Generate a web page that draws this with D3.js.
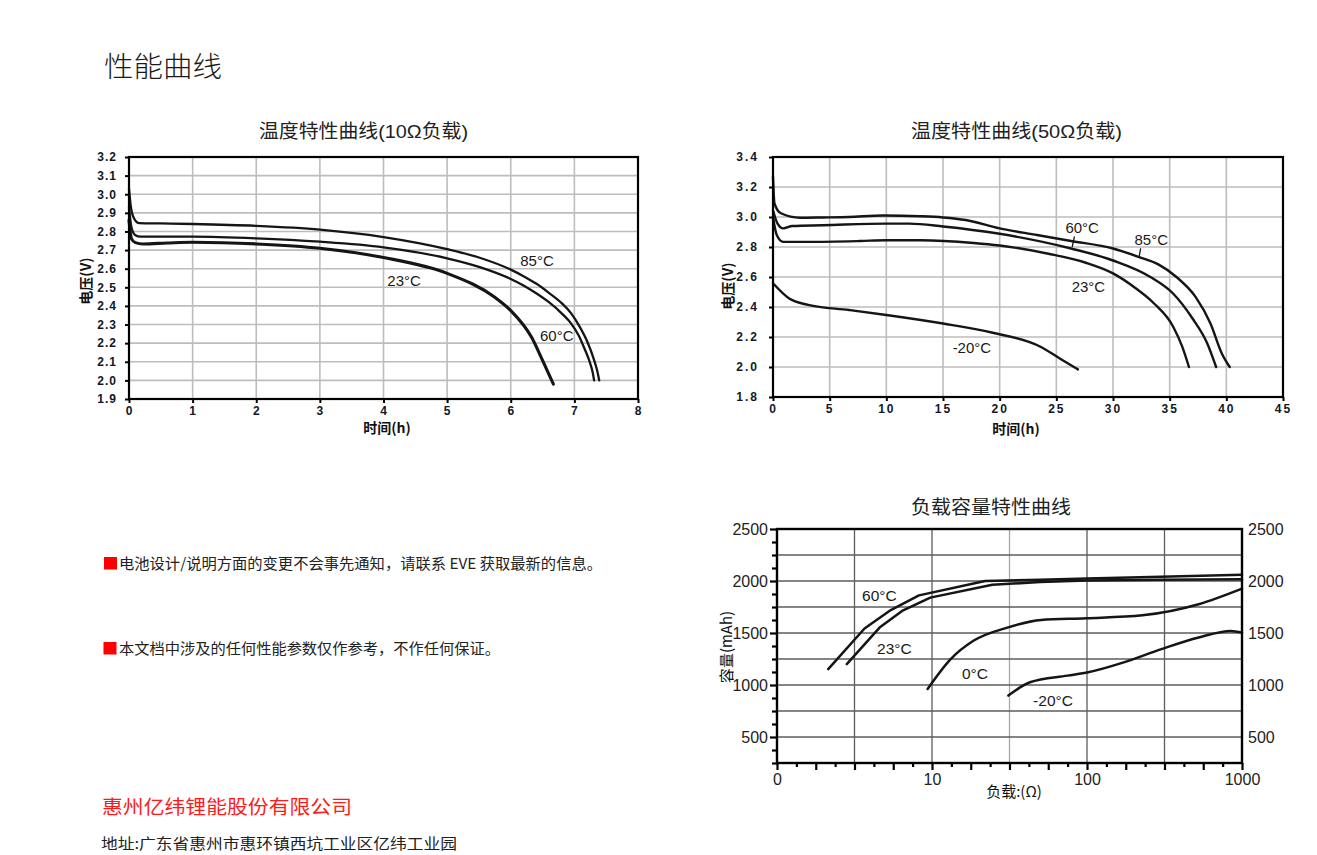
<!DOCTYPE html>
<html><head><meta charset="utf-8">
<script src="https://cdn.jsdelivr.net/npm/d3@7"></script>
<style>body{margin:0;background:#fff;} svg{display:block;}</style>
</head><body><svg id="c" width="1317" height="855"></svg>
<script>
// ---------------- DATA ----------------
// Chart 1: 10Ω load, time (h) vs voltage (V)
const c1_85 = [[0,3.03],[0.03,2.93],[0.08,2.87],[0.16,2.845],[0.5,2.843],[1,2.84],[2,2.83],[3,2.81],[4,2.77],[5,2.705],[5.5,2.66],[6,2.595],[6.2,2.56],[6.4,2.52],[6.6,2.47],[6.8,2.415],[6.95,2.36],[7.08,2.29],[7.2,2.21],[7.3,2.12],[7.36,2.05],[7.39,2.0]];
const c1_60 = [[0,2.93],[0.04,2.82],[0.1,2.78],[0.18,2.772],[1,2.772],[2,2.763],[3,2.745],[4,2.715],[5,2.656],[5.5,2.61],[6,2.545],[6.2,2.51],[6.4,2.468],[6.6,2.42],[6.8,2.36],[6.95,2.305],[7.07,2.24],[7.16,2.17],[7.24,2.1],[7.29,2.04],[7.31,2.0]];
const c1_23 = [[0,2.86],[0.04,2.76],[0.1,2.74],[0.22,2.733],[0.6,2.738],[1,2.742],[2,2.733],[3,2.71],[4,2.66],[5,2.575],[5.75,2.446],[6.0,2.375],[6.33,2.23],[6.5,2.107],[6.67,1.98]];
const c1_xTicks = [0,1,2,3,4,5,6,7,8];
const c1_yTicks = [1.9,2.0,2.1,2.2,2.3,2.4,2.5,2.6,2.7,2.8,2.9,3.0,3.1,3.2];
const c1_labels = [["85°C",6.15,2.614],["23°C",4.06,2.507],["60°C",6.46,2.212]];

// Chart 2: 50Ω load
const c2_85 = [[0,3.27],[0.13,3.09],[0.7,3.025],[2.4,2.995],[4.4,2.997],[6.7,3.0],[9.7,3.01],[13,3.005],[15,2.997],[17,2.98],[20,2.924],[23.3,2.88],[26.3,2.84],[30,2.79],[32.3,2.733],[34,2.684],[35.6,2.6],[37.3,2.466],[38.6,2.29],[39.6,2.09],[40.3,2.0]];
const c2_60 = [[0,3.045],[0.4,2.956],[0.9,2.924],[1.7,2.94],[4.4,2.945],[10,2.956],[12,2.956],[15,2.937],[20,2.888],[26.3,2.79],[30,2.71],[33.3,2.6],[35.3,2.49],[37,2.325],[38.3,2.16],[39.1,2.0]];
const c2_23 = [[0,3.0],[0.33,2.88],[0.9,2.834],[3.1,2.834],[7.7,2.84],[10,2.845],[13,2.845],[17.7,2.827],[20,2.81],[24.3,2.755],[27.6,2.695],[30,2.624],[32,2.525],[33.6,2.425],[35.3,2.27],[36.1,2.137],[36.7,2.0]];
const c2_m20 = [[0,2.558],[1.4,2.458],[3.1,2.414],[6.7,2.38],[10,2.347],[15,2.29],[19.3,2.23],[23.6,2.135],[25.3,2.057],[26.9,1.984]];
const c2_xTicks = [0,5,10,15,20,25,30,35,40,45];
const c2_yTicks = [1.8,2.0,2.2,2.4,2.6,2.8,3.0,3.2,3.4];
const c2_labels = [["60°C",25.8,2.891],["85°C",31.9,2.811],["23°C",26.35,2.498],["-20°C",15.85,2.091]];
const c2_leaders = [[[26.6,2.87],[26.4,2.80]],[[32.44,2.791],[32.29,2.731]]];

// Chart 3: load (Ω) vs capacity (mAh)
const c3_60 = [[2.14,1153],[3.67,1543],[5.42,1721],[8.24,1862],[22,2000],[50,2012],[100,2025],[300,2042],[1000,2060]];
const c3_23 = [[2.82,1201],[4.59,1552],[6.41,1712],[9.75,1840],[24.5,1963],[50,1990],[100,2005],[300,2012],[1000,2018]];
const c3_0 = [[9.37,962],[13.2,1249],[18.5,1425],[30.6,1552],[50.6,1626],[98.7,1642],[228,1670],[525,1776],[1000,1926]];
const c3_m20 = [[31.1,898],[42.8,1026],[74.7,1090],[101.6,1122],[172.6,1217],[302,1345],[525,1457],[847,1520],[1000,1504]];
const c3_xLabels = [[1,"0"],[10,"10"],[100,"100"],[1000,"1000"]];
const c3_yLabels = [500,1000,1500,2000,2500];
const c3_labels = [["60°C",3.54,1808],["23°C",4.42,1298],["0°C",15.6,1058],["-20°C",44.9,798]];

// ---------------- DRAW ----------------
const svg = d3.select("#c");
const LAT = "'Liberation Sans', Arial, 'Noto Sans CJK SC', sans-serif";
const CJK = "'Noto Sans CJK SC', 'Liberation Sans', sans-serif";

function txt(x, y, s, o) {
  o = o || {};
  const t = svg.append("text").attr("x", x).attr("y", y).text(s)
    .attr("font-family", o.family || CJK).attr("font-size", o.size || 15)
    .attr("fill", o.fill || "#222");
  if (o.weight) t.attr("font-weight", o.weight);
  if (o.len) t.attr("textLength", o.len).attr("lengthAdjust", "spacingAndGlyphs");
  if (o.anchor) t.attr("text-anchor", o.anchor);
  return t;
}

// Page text
txt(104, 76.5, "性能曲线", {size: 28, fill: "#1a1a1a", len: 118, weight: 300});
svg.append("rect").attr("x",104).attr("y",557).attr("width",13).attr("height",12.5).attr("fill","#ff0000");
txt(119, 569, "电池设计/说明方面的变更不会事先通知，请联系 EVE 获取最新的信息。", {size: 15, len: 483, fill:"#222"});
svg.append("rect").attr("x",103.5).attr("y",642).attr("width",13).attr("height",12.5).attr("fill","#ff0000");
txt(119, 654, "本文档中涉及的任何性能参数仅作参考，不作任何保证。", {size: 15, len: 381, fill:"#222"});
txt(102, 814, "惠州亿纬锂能股份有限公司", {size: 19, len: 250, fill: "#ff1a1a"});
txt(101, 849, "地址:广东省惠州市惠环镇西坑工业区亿纬工业园", {size: 15, len: 356, fill: "#222"});

// Voltage chart
function vChart(cfg) {
  const x = d3.scaleLinear().domain(cfg.xd).range([cfg.l, cfg.r]);
  const y = d3.scaleLinear().domain(cfg.yd).range([cfg.b, cfg.t]);
  const g = svg.append("g");
  // grid
  g.selectAll(".gx").data(cfg.xTicks).enter().append("line")
    .attr("x1", d => x(d)).attr("x2", d => x(d)).attr("y1", cfg.t).attr("y2", cfg.b)
    .attr("stroke", "#bdbdbd").attr("stroke-width", 1.6);
  g.selectAll(".gy").data(cfg.yTicks).enter().append("line")
    .attr("y1", d => y(d)).attr("y2", d => y(d)).attr("x1", cfg.l).attr("x2", cfg.r)
    .attr("stroke", "#bdbdbd").attr("stroke-width", 1.6);
  // axes
  const ax = g.append("g").attr("transform", `translate(0,${cfg.b})`)
    .call(d3.axisBottom(x).tickValues(cfg.xTicks).tickSize(4).tickPadding(4).tickFormat(d3.format("d")));
  const ay = g.append("g").attr("transform", `translate(${cfg.l},0)`)
    .call(d3.axisLeft(y).tickValues(cfg.yTicks).tickSize(4).tickPadding(cfg.yPad).tickFormat(d3.format(".1f")));
  [ax, ay].forEach(a => {
    a.select(".domain").remove();
    a.selectAll(".tick line").attr("stroke", "#000").attr("stroke-width", 2);
    a.selectAll("text").attr("font-family", LAT).attr("font-size", 12).attr("font-weight", "bold")
      .attr("fill", "#111827").style("letter-spacing", cfg.ls + "px");
  });
  ax.selectAll("text").attr("dy", "0.68em");
  // curves
  const line = d3.line().x(d => x(d[0])).y(d => y(d[1])).curve(d3.curveMonotoneX);
  cfg.series.forEach(s => {
    g.append("path").attr("d", line(s.data)).attr("fill", "none")
      .attr("stroke", "#151515").attr("stroke-width", s.w).attr("stroke-linejoin", "round").attr("stroke-linecap","round");
  });
  (cfg.leaders || []).forEach(L => {
    g.append("line").attr("x1", x(L[0][0])).attr("y1", y(L[0][1])).attr("x2", x(L[1][0])).attr("y2", y(L[1][1]))
      .attr("stroke", "#151515").attr("stroke-width", 1.3);
  });
  // frame
  g.append("rect").attr("x", cfg.l).attr("y", cfg.t).attr("width", cfg.r - cfg.l).attr("height", cfg.b - cfg.t)
    .attr("fill", "none").attr("stroke", "#000").attr("stroke-width", 2.2);
  cfg.labels.forEach(L => {
    g.append("text").attr("x", x(L[1])).attr("y", y(L[2])).text(L[0])
      .attr("font-family", LAT).attr("font-size", 15).attr("fill", "#1a1a1a");
  });
  // titles
  txt(cfg.titleX, 138, cfg.title, {family: LAT, size: 19, len: cfg.titleLen, fill: "#222"});
  txt(cfg.xtX, cfg.xtY, "时间(h)", {family: CJK, size: 14, weight: "bold", anchor: "middle", fill:"#111"});
  svg.append("text").attr("transform", `translate(${cfg.ytX},${cfg.ytY}) rotate(-90)`)
    .attr("text-anchor", "middle").attr("dominant-baseline", "central").text("电压(V)")
    .attr("font-family", CJK).attr("font-size", 14).attr("font-weight", "bold").attr("fill", "#111");
}

vChart({l:129, r:638, t:157, b:399, xd:[0,8], yd:[1.9,3.2], xTicks:c1_xTicks, yTicks:c1_yTicks, yPad:8, ls:1,
  series:[{data:c1_85,w:2.3},{data:c1_60,w:2.3},{data:c1_23,w:3.1}], labels:c1_labels,
  title:"温度特性曲线(10Ω负载)", titleX:259, titleLen:209, xtX:387, xtY:433, ytX:85, ytY:281});

vChart({l:773, r:1283, t:157, b:397, xd:[0,45], yd:[1.8,3.4], xTicks:c2_xTicks, yTicks:c2_yTicks, yPad:10, ls:2,
  series:[{data:c2_85,w:2.4},{data:c2_60,w:2.4},{data:c2_23,w:2.4},{data:c2_m20,w:2.4}], labels:c2_labels, leaders:c2_leaders,
  title:"温度特性曲线(50Ω负载)", titleX:911, titleLen:211, xtX:1016, xtY:434, ytX:727, ytY:286});

// Capacity chart
(function(){
  const l = 777, r = 1242, t = 529, b = 763;
  const x = d3.scaleLog().domain([1, 1000]).range([l, r]);
  const y = d3.scaleLinear().domain([250, 2500]).range([b, t]);
  const g = svg.append("g");
  const gridX = [1,2,3,4,5].map(k => Math.pow(10, k / 2));
  g.selectAll(".gx").data(gridX).enter().append("line")
    .attr("x1", d => x(d)).attr("x2", d => x(d)).attr("y1", t).attr("y2", b)
    .attr("stroke", (d, i) => i === 2 ? "#a8a8a8" : "#5c5c5c").attr("stroke-width", 1.3);
  const gridY = d3.range(500, 2500, 250);
  g.selectAll(".gy").data(gridY).enter().append("line")
    .attr("y1", d => y(d)).attr("y2", d => y(d)).attr("x1", l).attr("x2", r)
    .attr("stroke", "#5c5c5c").attr("stroke-width", 1.3);
  // bottom axis
  const xt = d3.range(0, 25).map(k => Math.pow(10, k / 8));
  const labelMap = new Map(c3_xLabels.map(d => [d[0], d[1]]));
  const ax = g.append("g").attr("transform", `translate(0,${b})`)
    .call(d3.axisBottom(x).tickValues(xt).tickSize(7).tickPadding(4)
      .tickFormat(d => { for (const [k, v] of labelMap) if (Math.abs(k - d) < 1e-6) return v; return ""; }));
  ax.select(".domain").remove();
  ax.selectAll(".tick line").attr("stroke", "#000").attr("stroke-width", 2.2)
    .attr("y2", (d, i) => i % 2 === 0 ? 7 : 4);
  ax.selectAll("text").attr("font-family", LAT).attr("font-size", 16).attr("fill", "#222");
  // left axis
  const yt = d3.range(250, 2501, 125);
  const ay = g.append("g").attr("transform", `translate(${l},0)`)
    .call(d3.axisLeft(y).tickValues(yt).tickSize(6).tickPadding(3)
      .tickFormat(d => c3_yLabels.includes(d) ? String(d) : ""));
  ay.select(".domain").remove();
  ay.selectAll(".tick line").attr("stroke", "#000").attr("stroke-width", 2.2)
    .attr("x2", d => c3_yLabels.includes(d) ? -7 : -5);
  ay.selectAll("text").attr("font-family", LAT).attr("font-size", 16).attr("fill", "#222");
  // right axis labels
  const ar = g.append("g").attr("transform", `translate(${r},0)`)
    .call(d3.axisRight(y).tickValues(c3_yLabels).tickSize(0).tickPadding(6).tickFormat(d3.format("d")));
  ar.select(".domain").remove();
  ar.selectAll("text").attr("font-family", LAT).attr("font-size", 16).attr("fill", "#222");
  // curves
  const lineLin = d3.line().x(d => x(d[0])).y(d => y(d[1]));
  const lineSm = d3.line().x(d => x(d[0])).y(d => y(d[1])).curve(d3.curveMonotoneX);
  [[c3_60, lineLin], [c3_23, lineLin], [c3_0, lineSm], [c3_m20, lineSm]].forEach(([d, ln]) => {
    g.append("path").attr("d", ln(d)).attr("fill", "none").attr("stroke", "#151515")
      .attr("stroke-width", 2.5).attr("stroke-linejoin", "round").attr("stroke-linecap", "round");
  });
  // frame
  g.append("rect").attr("x", l).attr("y", t).attr("width", r - l).attr("height", b - t)
    .attr("fill", "none").attr("stroke", "#000").attr("stroke-width", 2.4);
  c3_labels.forEach(L => {
    g.append("text").attr("x", x(L[1])).attr("y", y(L[2])).text(L[0])
      .attr("font-family", LAT).attr("font-size", 15.5).attr("fill", "#1a1a1a");
  });
  txt(911, 514, "负载容量特性曲线", {size: 19, len: 160, fill: "#222"});
  txt(1014, 797, "负载:(Ω)", {size: 15, anchor: "middle", fill: "#111"});
  svg.append("text").attr("transform", `translate(725,647) rotate(-90)`)
    .attr("text-anchor", "middle").attr("dominant-baseline", "central").text("容量(mAh)")
    .attr("font-family", CJK).attr("font-size", 15).attr("fill", "#111");
})();
</script></body></html>
